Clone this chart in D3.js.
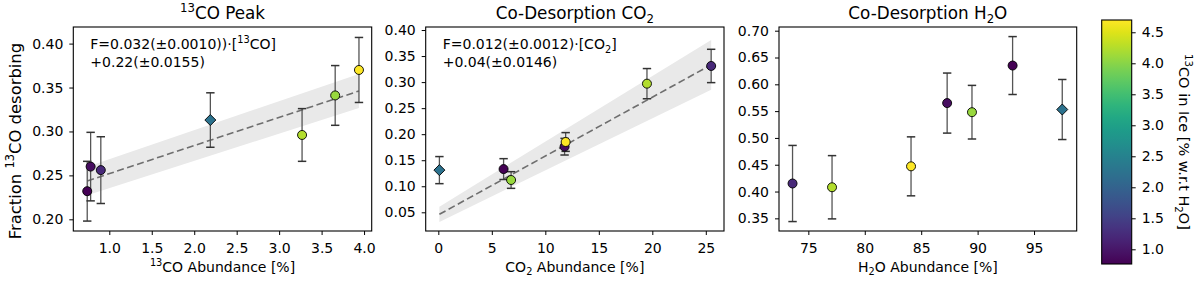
<!DOCTYPE html>
<html>
<head>
<meta charset="utf-8">
<script src="https://cdn.jsdelivr.net/npm/d3@7"></script>
<style>
body { margin: 0; background: #fff; }
text { font-family: "DejaVu Sans", sans-serif; fill: #000; }
</style>
</head>
<body>
<svg id="fig" width="1200" height="282"></svg>
<script>
// same seven samples in every panel (A..G)
var co13Abund = [0.74, 0.78, 0.90, 2.19, 3.27, 3.66, 3.94];
var co2Abund  = [6.1, 11.8, 25.5, 0.1, 19.5, 6.8, 11.9];
var h2oAbund  = [93.1, 87.3, 73.6, 97.5, 77.1, 89.5, 84.1];
var iceCO     = [0.77, 0.90, 1.23, 2.25, 4.24, 4.09, 4.70];   // colour value
var isDiamond = [false, false, false, true, false, false, false];

var peakFrac = [0.232, 0.260, 0.256, 0.313, 0.296, 0.341, 0.370];
var peakErr  = [0.034, 0.039, 0.038, 0.031, 0.030, 0.034, 0.037];
var co2Frac  = [0.133, 0.176, 0.331, 0.131, 0.297, 0.112, 0.185];
var co2Err   = [0.020, 0.016, 0.032, 0.026, 0.029, 0.016, 0.018];
var h2oFrac  = [0.635, 0.565, 0.415, 0.553, 0.408, 0.548, 0.447];
var h2oErr   = [0.054, 0.056, 0.071, 0.056, 0.059, 0.050, 0.055];

// fits: slope, slope error, intercept, intercept error
var peakFit = [0.032, 0.0010, 0.22, 0.0155];
var co2Fit  = [0.0113, 0.0013, 0.045, 0.0146];

var peakXTicks = [1.0, 1.5, 2.0, 2.5, 3.0, 3.5, 4.0];
var peakYTicks = [0.20, 0.25, 0.30, 0.35, 0.40];
var co2XTicks  = [0, 5, 10, 15, 20, 25];
var co2YTicks  = [0.05, 0.10, 0.15, 0.20, 0.25, 0.30, 0.35, 0.40];
var h2oXTicks  = [75, 80, 85, 90, 95];
var h2oYTicks  = [0.35, 0.40, 0.45, 0.50, 0.55, 0.60, 0.65, 0.70];
var cbarTicks  = [1.0, 1.5, 2.0, 2.5, 3.0, 3.5, 4.0, 4.5];

var svg = d3.select("#fig");
var plotTop = 27, plotBottom = 231;
var color = d3.scaleSequential(d3.interpolateViridis).domain([0.77, 4.70]);

// text with super/subscripts: parts = [[str, "n"|"sup"|"sub"], ...]
function rich(t, parts, size) {
    var shift = 0;
    t.attr("font-size", size);
    parts.forEach(function(p) {
        var target = p[1] == "sup" ? -0.4 * size : (p[1] == "sub" ? 0.25 * size : 0);
        t.append("tspan")
            .attr("dy", target - shift)
            .attr("font-size", p[1] == "n" ? size : size * 0.7)
            .text(p[0]);
        shift = target;
    });
}

var panels = [
    {x: co13Abund, y: peakFrac, e: peakErr, fit: peakFit, left: 73.3, right: 371.7,
     xdom: [0.576, 4.09], ydom: [0.1867, 0.4189], xt: peakXTicks, yt: peakYTicks, xf: ".1f",
     title: [["13", "sup"], ["CO Peak", "n"]],
     xlab: [["13", "sup"], ["CO Abundance [%]", "n"]],
     ann: [[["F=0.032(\u00b10.0010))\u00b7[", "n"], ["13", "sup"], ["CO]", "n"]], [["+0.22(\u00b10.0155)", "n"]]]},
    {x: co2Abund, y: co2Frac, e: co2Err, fit: co2Fit, left: 425.7, right: 724,
     xdom: [-1.18, 26.7], ydom: [0.0141, 0.4058], xt: co2XTicks, yt: co2YTicks, xf: "d",
     title: [["Co-Desorption CO", "n"], ["2", "sub"]],
     xlab: [["CO", "n"], ["2", "sub"], [" Abundance [%]", "n"]],
     ann: [[["F=0.012(\u00b10.0012)\u00b7[CO", "n"], ["2", "sub"], ["]", "n"]], [["+0.04(\u00b10.0146)", "n"]]]},
    {x: h2oAbund, y: h2oFrac, e: h2oErr, fit: null, left: 779, right: 1076.7,
     xdom: [72.4, 98.78], ydom: [0.3264, 0.7069], xt: h2oXTicks, yt: h2oYTicks, xf: "d",
     title: [["Co-Desorption H", "n"], ["2", "sub"], ["O", "n"]],
     xlab: [["H", "n"], ["2", "sub"], ["O Abundance [%]", "n"]],
     ann: []}
];

panels.forEach(function(p) {
    var x = d3.scaleLinear().domain(p.xdom).range([p.left, p.right]);
    var y = d3.scaleLinear().domain(p.ydom).range([plotBottom, plotTop]);
    var g = svg.append("g");

    if (p.fit) {
        var s = p.fit[0], se = p.fit[1], b = p.fit[2], be = p.fit[3];
        var ext = d3.extent(p.x);
        g.append("path")
            .datum(ext)
            .attr("d", d3.area()
                .x(function(d) { return x(d); })
                .y0(function(d) { return y((s - se) * d + (b - be)); })
                .y1(function(d) { return y((s + se) * d + (b + be)); }))
            .attr("fill", "#e9e9e9");
        g.append("path")
            .datum(ext)
            .attr("d", d3.line()
                .x(function(d) { return x(d); })
                .y(function(d) { return y(s * d + b); }))
            .attr("fill", "none")
            .attr("stroke", "#6e6e6e")
            .attr("stroke-width", 1.6)
            .attr("stroke-dasharray", "7,3.5");
    }

    var idx = d3.range(p.x.length);
    // error bars
    idx.forEach(function(i) {
        var cx = x(p.x[i]);
        g.append("line")
            .attr("x1", cx).attr("x2", cx)
            .attr("y1", y(p.y[i] - p.e[i])).attr("y2", y(p.y[i] + p.e[i]))
            .attr("stroke", "#555").attr("stroke-width", 1.3);
        [p.y[i] - p.e[i], p.y[i] + p.e[i]].forEach(function(v) {
            g.append("line")
                .attr("x1", cx - 4.2).attr("x2", cx + 4.2)
                .attr("y1", y(v)).attr("y2", y(v))
                .attr("stroke", "#333").attr("stroke-width", 1.5);
        });
    });
    // markers
    idx.forEach(function(i) {
        var cx = x(p.x[i]), cy = y(p.y[i]);
        if (isDiamond[i]) {
            var r = 5.5;
            g.append("path")
                .attr("d", "M" + cx + "," + (cy - r) + "L" + (cx + r) + "," + cy + "L" + cx + "," + (cy + r) + "L" + (cx - r) + "," + cy + "Z")
                .attr("fill", color(iceCO[i])).attr("stroke", "#000").attr("stroke-width", 0.9);
        } else {
            g.append("circle")
                .attr("cx", cx).attr("cy", cy).attr("r", 4.5)
                .attr("fill", color(iceCO[i])).attr("stroke", "#000").attr("stroke-width", 0.9);
        }
    });

    // axes
    var xa = g.append("g").attr("transform", "translate(0," + plotBottom + ")")
        .call(d3.axisBottom(x).tickValues(p.xt).tickFormat(d3.format(p.xf)).tickSize(4).tickSizeOuter(0).tickPadding(8));
    var ya = g.append("g").attr("transform", "translate(" + p.left + ",0)")
        .call(d3.axisLeft(y).tickValues(p.yt).tickFormat(d3.format(".2f")).tickSize(4).tickSizeOuter(0).tickPadding(6));
    [xa, ya].forEach(function(a) {
        a.select(".domain").remove();
        a.selectAll("text").attr("font-size", 14).attr("font-family", "DejaVu Sans");
        a.selectAll("line").attr("stroke", "#000").attr("stroke-width", 1);
    });
    g.append("rect")
        .attr("x", p.left).attr("y", plotTop)
        .attr("width", p.right - p.left).attr("height", plotBottom - plotTop)
        .attr("fill", "none").attr("stroke", "#000").attr("stroke-width", 1.1);

    var mid = (p.left + p.right) / 2;
    rich(g.append("text").attr("x", mid).attr("y", 18.5).attr("text-anchor", "middle"), p.title, 16.8);
    rich(g.append("text").attr("x", mid).attr("y", 271.5).attr("text-anchor", "middle"), p.xlab, 14);
    p.ann.forEach(function(line, k) {
        rich(g.append("text").attr("x", p.left + 17).attr("y", 49 + k * 17.5), line, 14);
    });
});

// shared y label
rich(svg.append("text")
    .attr("transform", "translate(21,141) rotate(-90)")
    .attr("text-anchor", "middle"),
    [["Fraction ", "n"], ["13", "sup"], ["CO desorbing", "n"]], 16.4);

// colorbar
var cbL = 1101.7, cbW = 30, cbT = 20, cbB = 264;
var grad = svg.append("defs").append("linearGradient")
    .attr("id", "vir").attr("x1", 0).attr("x2", 0).attr("y1", 1).attr("y2", 0);
d3.range(0, 1.0001, 0.05).forEach(function(t) {
    grad.append("stop").attr("offset", t).attr("stop-color", d3.interpolateViridis(t));
});
svg.append("rect").attr("x", cbL).attr("y", cbT).attr("width", cbW).attr("height", cbB - cbT)
    .attr("fill", "url(#vir)").attr("stroke", "#000").attr("stroke-width", 1.1);
var cy = d3.scaleLinear().domain([0.763, 4.698]).range([cbB, cbT]);
var ca = svg.append("g").attr("transform", "translate(" + (cbL + cbW) + ",0)")
    .call(d3.axisRight(cy).tickValues(cbarTicks).tickFormat(d3.format(".1f")).tickSize(4).tickSizeOuter(0).tickPadding(6));
ca.select(".domain").remove();
ca.selectAll("text").attr("font-size", 14).attr("font-family", "DejaVu Sans");
ca.selectAll("line").attr("stroke", "#000");

rich(svg.append("text")
    .attr("transform", "translate(1179,142) rotate(90)")
    .attr("text-anchor", "middle"),
    [["13", "sup"], ["CO in Ice [% w.r.t H", "n"], ["2", "sub"], ["O]", "n"]], 14.5);
</script>
</body>
</html>
